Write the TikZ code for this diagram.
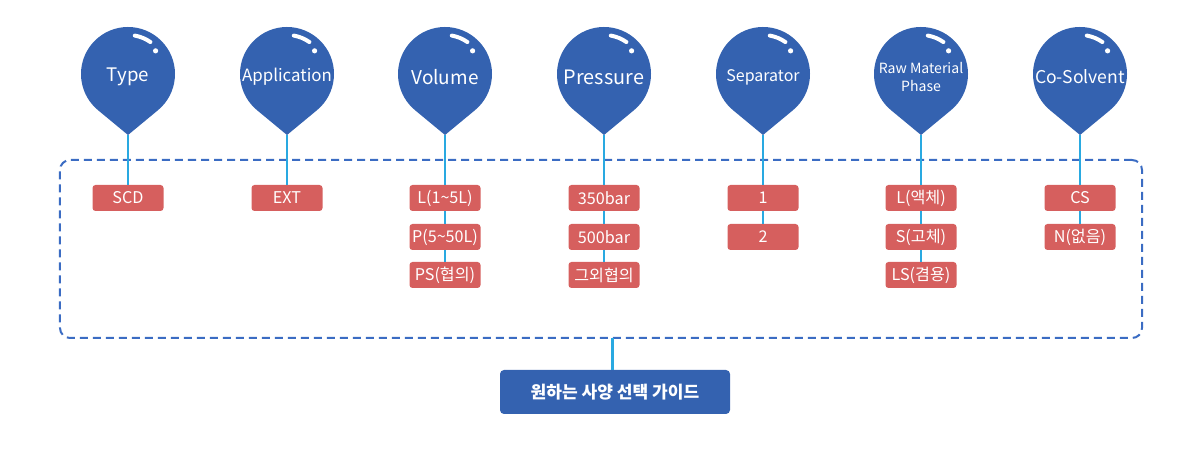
\documentclass[tikz,border=0pt]{standalone}
\usepackage{fontspec}
\setmainfont{Noto Sans CJK KR}
\definecolor{pinblue}{HTML}{3462B0}
\definecolor{boxred}{HTML}{D65F5E}
\definecolor{stemblue}{HTML}{29A9E1}
\definecolor{framblue}{HTML}{3B6CC3}
\begin{document}
\begin{tikzpicture}[x=0.2mm,y=0.2mm,
  opt/.style={fill=boxred,text=white,rounded corners=0.6mm,minimum width=14.2mm,minimum height=5.2mm,inner sep=0pt,font=\fontsize{9.2}{9.2}\selectfont},
  stem/.style={stemblue,line width=0.4mm},
  pinlabel/.style={text=white,align=center,inner sep=0pt}]
\useasboundingbox (0,0) rectangle (1200,450);
% frame
\node[draw=framblue,line width=0.4mm,dash pattern=on 1.6mm off 1mm,rounded corners=2mm,minimum width=216.4mm,minimum height=35.6mm] (frame) at (601,201){};
% pins
\foreach \x/\n/\s/\t in {128/ty/10.6/Type,287/ap/9.6/Application,445/vo/10.8/Volume,604/pr/11.3/Pressure,763/se/9.1/Separator,921/rm/8/Raw Material\\Phase,1080/co/10/Co-Solvent}{
  \fill[pinblue] (\x,315) -- ([shift={(-50.4:47)}]\x,376) arc[start angle=-50.4,end angle=230.4,radius=47] -- cycle;
  \draw[white,line width=0.8mm,line cap=round] ([shift={(80:39)}]\x,376) arc[start angle=80,end angle=55,radius=39];
  \fill[white] ([shift={(40:36)}]\x,376) circle[radius=2.6];
  \node[pinlabel,font=\fontsize{\s}{10.5}\selectfont] (\n) at (\x,373){\t};
  \coordinate (\n-tip) at (\x,315);
}
% options
\node[opt] (t1) at (128,252){SCD};
\node[opt] (a1) at (287,252){EXT};
\node[opt] (v1) at (445,252){L(1\textasciitilde5L)};
\node[opt] (v2) at (445,213){P(5\textasciitilde50L)};
\node[opt] (v3) at (445,175){PS(협의)};
\node[opt] (p1) at (604,252){350bar};
\node[opt] (p2) at (604,213){500bar};
\node[opt] (p3) at (604,175){그외협의};
\node[opt] (s1) at (763,252){1};
\node[opt] (s2) at (763,213){2};
\node[opt] (r1) at (921,252){L(액체)};
\node[opt] (r2) at (921,213){S(고체)};
\node[opt] (r3) at (921,175){LS(겸용)};
\node[opt] (c1) at (1080,252){CS};
\node[opt] (c2) at (1080,213){N(없음)};
\draw[stem] (ty-tip) -- (t1);
\draw[stem] (ap-tip) -- (a1);
\draw[stem] (vo-tip) -- (v1);
\draw[stem] (v1) -- (v2);
\draw[stem] (v2) -- (v3);
\draw[stem] (pr-tip) -- (p1);
\draw[stem] (p1) -- (p2);
\draw[stem] (p2) -- (p3);
\draw[stem] (se-tip) -- (s1);
\draw[stem] (s1) -- (s2);
\draw[stem] (rm-tip) -- (r1);
\draw[stem] (r1) -- (r2);
\draw[stem] (r2) -- (r3);
\draw[stem] (co-tip) -- (c1);
\draw[stem] (c1) -- (c2);
% guide
\node[fill=pinblue,text=white,rounded corners=0.8mm,minimum width=46mm,minimum height=8.8mm,font=\fontsize{9.7}{9.7}\selectfont\bfseries] (guide) at (615,58){원하는 사양 선택 가이드};
\draw[stem,line width=0.6mm] (guide.north -| 612,0) -- (612,112);
\end{tikzpicture}
\end{document}
